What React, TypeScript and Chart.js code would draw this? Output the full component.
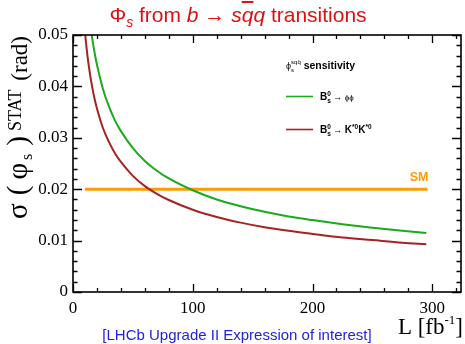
import React, { useEffect, useRef } from "react";
import { Chart, registerables } from "chart.js";

Chart.register(...registerables);

// ---- data ----
const LUMI = [10, 12, 14, 16, 18, 20, 25, 30, 35, 40, 50, 60, 70, 80, 100, 120, 140, 160, 180, 200, 225, 250, 275, 295];
const SIGMA_PHIPHI = [0.0625, 0.0571, 0.0528, 0.0494, 0.0466, 0.0442, 0.0395, 0.0361, 0.0334, 0.0313, 0.028, 0.0255, 0.0236, 0.0221, 0.0198, 0.018, 0.0167, 0.0156, 0.0147, 0.014, 0.0132, 0.0125, 0.0119, 0.0115];
const SIGMA_KSTKST = [0.0505, 0.0461, 0.0427, 0.0399, 0.0376, 0.0357, 0.0319, 0.0292, 0.027, 0.0253, 0.0226, 0.0206, 0.0191, 0.0179, 0.016, 0.0146, 0.0135, 0.0126, 0.0119, 0.0113, 0.0106, 0.0101, 0.0096, 0.0093];
const SM_LUMI = [10, 296];
const SM_SIGMA = [0.02, 0.02];
const X_TICKS = [0, 100, 200, 300];
const Y_TICKS = [0, 0.01, 0.02, 0.03, 0.04, 0.05];
const X_MAX = 324;
const Y_MAX = 0.05;

const GREEN = "#1aaa1a";
const RED = "#a82222";
const ORANGE = "#ff9a00";

const SERIF = "'Liberation Serif', 'DejaVu Serif', serif";
const SANS = "'Liberation Sans', Arial, sans-serif";

type Seg = { t: string; font: string; dy?: number; noAdvance?: boolean; gap?: number };

function drawRich(ctx: CanvasRenderingContext2D, segs: Seg[], x: number, y: number, align: "left" | "right") {
  let total = 0;
  for (const s of segs) {
    ctx.font = s.font;
    if (!s.noAdvance) total += ctx.measureText(s.t).width + (s.gap || 0);
  }
  let cx = align === "right" ? x - total : x;
  ctx.textAlign = "left";
  ctx.textBaseline = "alphabetic";
  for (const s of segs) {
    ctx.font = s.font;
    const w = ctx.measureText(s.t).width;
    ctx.fillText(s.t, cx, y + (s.dy || 0));
    if (!s.noAdvance) cx += w + (s.gap || 0);
  }
}

const framePlugin = {
  id: "rootFrame",
  afterDraw(chart: any) {
    const ctx: CanvasRenderingContext2D = chart.ctx;
    const { left, right, top, bottom } = chart.chartArea;
    const xs = chart.scales.x;
    const ys = chart.scales.y;
    ctx.save();
    ctx.strokeStyle = "#000";
    ctx.lineWidth = 1.6;
    ctx.strokeRect(left, top, right - left, bottom - top);
    ctx.lineWidth = 1.3;
    ctx.beginPath();
    for (let i = 0; i * 20 <= X_MAX; i++) {
      const v = i * 20;
      const px = Math.round(xs.getPixelForValue(v)) + 0.5;
      const len = v % 100 === 0 ? 8 : 4;
      ctx.moveTo(px, bottom);
      ctx.lineTo(px, bottom - len);
      ctx.moveTo(px, top);
      ctx.lineTo(px, top + len);
    }
    for (let i = 0; i <= 25; i++) {
      const py = Math.round(ys.getPixelForValue(i * 0.002)) + 0.5;
      const len = i % 5 === 0 ? 9 : 4.5;
      ctx.moveTo(left, py);
      ctx.lineTo(left + len, py);
      ctx.moveTo(right, py);
      ctx.lineTo(right - len, py);
    }
    ctx.stroke();

    // axis titles
    ctx.fillStyle = "#000";
    ctx.save();
    ctx.translate(27, top + 1);
    ctx.rotate(-Math.PI / 2);
    drawRich(
      ctx,
      [
        { t: "σ", font: `29px ${SERIF}`, gap: 8 },
        { t: "(", font: `29px ${SERIF}`, gap: 6 },
        { t: "φ", font: `29px ${SERIF}`, gap: 3 },
        { t: "s", font: `16px ${SERIF}`, dy: 5, gap: 8 },
        { t: ")", font: `29px ${SERIF}`, gap: 5 },
        { t: "STAT", font: `18px ${SERIF}`, dy: -6, gap: 3 },
        { t: " (rad)", font: `23px ${SERIF}` },
      ],
      0,
      0,
      "right"
    );
    ctx.restore();
    drawRich(
      ctx,
      [
        { t: "L [fb", font: `23px ${SERIF}` },
        { t: "-1", font: `13px ${SERIF}`, dy: -10 },
        { t: "]", font: `23px ${SERIF}` },
      ],
      463,
      334,
      "right"
    );

    // legend
    drawRich(
      ctx,
      [
        { t: "ϕ", font: `9px ${SANS}` },
        { t: "s", font: `6px ${SANS}`, dy: 3, noAdvance: true },
        { t: "sqq̄", font: `6px ${SANS}`, dy: -5 },
        { t: " sensitivity", font: `bold 10.5px ${SANS}` },
      ],
      286,
      69,
      "left"
    );
    ctx.lineWidth = 1.6;
    ctx.strokeStyle = GREEN;
    ctx.beginPath();
    ctx.moveTo(286, 96.5);
    ctx.lineTo(313, 96.5);
    ctx.stroke();
    ctx.strokeStyle = RED;
    ctx.beginPath();
    ctx.moveTo(286, 129.5);
    ctx.lineTo(313, 129.5);
    ctx.stroke();
    drawRich(
      ctx,
      [
        { t: "B", font: `bold 10px ${SANS}` },
        { t: "s", font: `bold 6.5px ${SANS}`, dy: 3, noAdvance: true },
        { t: "0", font: `bold 6.5px ${SANS}`, dy: -4 },
        { t: " → ", font: `9px ${SANS}` },
        { t: "ϕϕ", font: `8px ${SANS}` },
      ],
      320,
      100,
      "left"
    );
    drawRich(
      ctx,
      [
        { t: "B", font: `bold 10px ${SANS}` },
        { t: "s", font: `bold 6.5px ${SANS}`, dy: 3, noAdvance: true },
        { t: "0", font: `bold 6.5px ${SANS}`, dy: -4 },
        { t: " → ", font: `9px ${SANS}` },
        { t: "K", font: `bold 10px ${SANS}` },
        { t: "*0", font: `bold 6.5px ${SANS}`, dy: -4 },
        { t: "K", font: `bold 10px ${SANS}` },
        { t: "*0", font: `bold 6.5px ${SANS}`, dy: -4 },
      ],
      320,
      133,
      "left"
    );

    // SM label
    ctx.fillStyle = ORANGE;
    ctx.font = `bold 12.5px ${SANS}`;
    ctx.textAlign = "right";
    ctx.fillText("SM", xs.getPixelForValue(SM_LUMI[1]) + 1, ys.getPixelForValue(SM_SIGMA[1]) - 8);
    ctx.restore();
  },
};

export default function App() {
  const ref = useRef<HTMLCanvasElement>(null);
  useEffect(() => {
    const canvas = ref.current;
    if (!canvas) return;
    const toPts = (xs: number[], ys: number[]) => xs.map((x, i) => ({ x, y: ys[i] }));
    const chart = new Chart(canvas, {
      type: "line",
      data: {
        datasets: [
          {
            label: "phiphi",
            data: toPts(LUMI, SIGMA_PHIPHI),
            borderColor: GREEN,
            borderWidth: 2,
            pointRadius: 0,
            cubicInterpolationMode: "monotone",
          },
          {
            label: "KstKst",
            data: toPts(LUMI, SIGMA_KSTKST),
            borderColor: RED,
            borderWidth: 2,
            pointRadius: 0,
            cubicInterpolationMode: "monotone",
          },
          {
            label: "SM",
            data: toPts(SM_LUMI, SM_SIGMA),
            borderColor: ORANGE,
            borderWidth: 3,
            pointRadius: 0,
          },
        ],
      },
      options: {
        animation: false,
        responsive: false,
        devicePixelRatio: 1,
        layout: { padding: { left: 0, top: 35, right: 4, bottom: 0 } },
        plugins: { legend: { display: false }, tooltip: { enabled: false }, title: { display: false } },
        scales: {
          x: {
            type: "linear",
            min: 0,
            max: X_MAX,
            grid: { display: false, drawTicks: false },
            border: { display: false },
            ticks: {
              color: "#000",
              font: { family: SERIF, size: 17 },
              padding: 6,
              maxRotation: 0,
              autoSkip: false,
              callback: (v: any) => String(v),
            },
            afterBuildTicks: (s: any) => {
              s.ticks = X_TICKS.map((v) => ({ value: v }));
            },
            afterFit: (s: any) => {
              s.height = 52;
            },
          },
          y: {
            type: "linear",
            min: 0,
            max: Y_MAX,
            grid: { display: false, drawTicks: false },
            border: { display: false },
            ticks: {
              color: "#000",
              font: { family: SERIF, size: 17 },
              padding: 5,
              autoSkip: false,
              callback: (v: any) => (Number(v) === 0 ? "0" : Number(v).toFixed(2)),
            },
            afterBuildTicks: (s: any) => {
              s.ticks = Y_TICKS.map((v) => ({ value: v }));
            },
            afterFit: (s: any) => {
              s.width = 73;
            },
          },
        },
      },
      plugins: [framePlugin],
    } as any);
    return () => chart.destroy();
  }, []);

  return (
    <div style={{ position: "fixed", left: 0, top: 0, width: 465, height: 344, background: "#fff", overflow: "hidden" }}>
      <canvas ref={ref} width={465} height={344} style={{ position: "absolute", left: 0, top: 0, width: 465, height: 344 }} />
      <div
        style={{
          position: "absolute",
          left: 238,
          top: 4,
          transform: "translateX(-50%)",
          whiteSpace: "nowrap",
          fontFamily: SANS,
          fontSize: 21,
          lineHeight: "21px",
          color: "#dd1111",
        }}
      >
        Φ<sub style={{ fontStyle: "italic", fontSize: 14, verticalAlign: -5, lineHeight: 0 }}>s</sub> from <i>b</i> → <i>s</i>
        <i style={{ textDecoration: "overline" }}>q</i>
        <i>q</i> transitions
      </div>
      <div
        style={{
          position: "absolute",
          left: 237,
          top: 327,
          transform: "translateX(-50%)",
          whiteSpace: "nowrap",
          fontFamily: SANS,
          fontSize: 15,
          lineHeight: "15px",
          color: "#2222dd",
        }}
      >
        [LHCb Upgrade II Expression of interest]
      </div>
    </div>
  );
}
